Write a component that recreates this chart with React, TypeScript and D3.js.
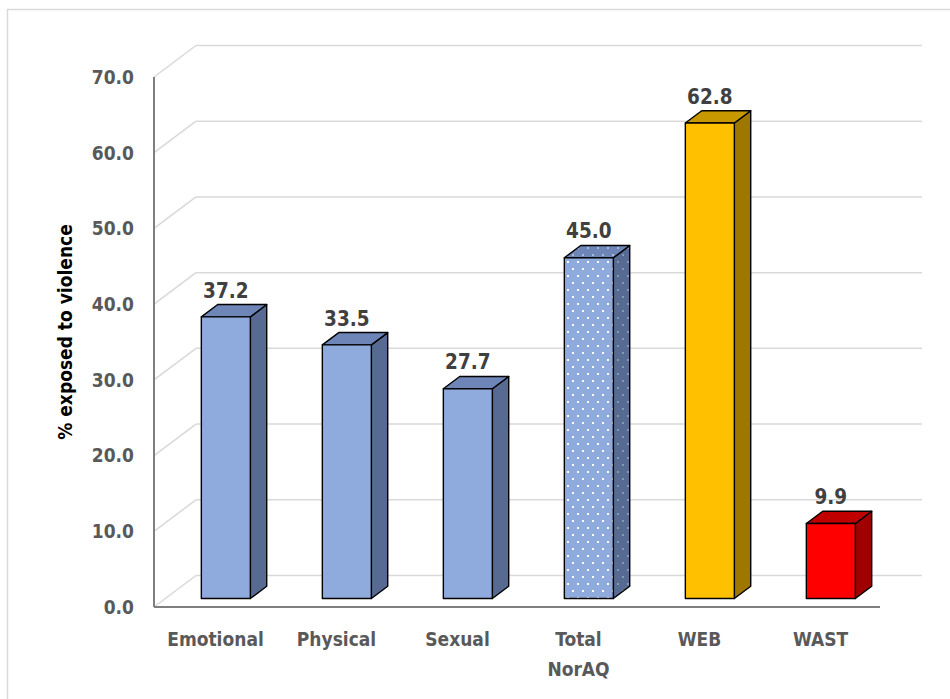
import { useEffect, useRef } from "react";
import * as d3 from "d3";

// chart values
const categories = ["Emotional", "Physical", "Sexual", "Total NorAQ", "WEB", "WAST"];
const values = [37.2, 33.5, 27.7, 45.0, 62.8, 9.9];
const tickValues = [0, 10, 20, 30, 40, 50, 60, 70];
const yTitle = "% exposed to violence";

// colours per bar: front, top, side
const fronts = ["#8faadc", "#8faadc", "#8faadc", "#8faadc", "#ffc000", "#ff0000"];
const tops = ["#6d85b7", "#6d85b7", "#6d85b7", "#6d85b7", "#c79800", "#c00000"];
const sides = ["#576a92", "#576a92", "#576a92", "#576a92", "#9e7700", "#a00000"];

const App = () => {
  const ref = useRef<SVGSVGElement>(null);

  useEffect(() => {
    draw();
  }, []);

  const draw = () => {
    const width = 950;
    const height = 699;
    const font = "'DejaVu Sans Condensed', 'DejaVu Sans', sans-serif";

    const svg = d3.select(ref.current).attr("width", width).attr("height", height);
    svg.selectAll("*").remove();

    // chart border (only top/left fall inside the picture)
    svg
      .append("rect")
      .attr("x", 7.5)
      .attr("y", 9.5)
      .attr("width", 960)
      .attr("height", 710)
      .attr("fill", "none")
      .attr("stroke", "#d9d9d9")
      .attr("stroke-width", 1.5);

    // front plane
    const left = 154;
    const right = 880;
    const depth = { x: 42, y: -31.5 };

    const yScale = d3.scaleLinear().domain([0, 70]).range([607, 77]);
    const xScale = d3
      .scaleBand<string>()
      .domain(categories)
      .range([left, right])
      .paddingInner(0.595)
      .paddingOuter(0.2975);

    // pattern for the dotted bar
    const defs = svg.append("defs");
    const mkPattern = (id: string, bg: string, dot: string) => {
      const p = defs
        .append("pattern")
        .attr("id", id)
        .attr("patternUnits", "userSpaceOnUse")
        .attr("width", 10)
        .attr("height", 14);
      p.append("rect").attr("width", 10).attr("height", 14).attr("fill", bg);
      p.append("rect").attr("x", 2).attr("y", 2).attr("width", 2).attr("height", 2).attr("fill", dot);
      p.append("rect").attr("x", 7).attr("y", 9).attr("width", 2).attr("height", 2).attr("fill", dot);
    };
    mkPattern("dotsFront", "#8faadc", "#ffffff");
    mkPattern("dotsTop", "#6d85b7", "#a9bbdd");
    mkPattern("dotsSide", "#576a92", "#8797b8");

    // back wall gridlines + left wall diagonals
    const grid = svg.append("g").attr("stroke", "#d9d9d9").attr("stroke-width", 1.5).attr("fill", "none");
    tickValues.forEach((v) => {
      const yf = yScale(v);
      grid
        .append("line")
        .attr("x1", left + depth.x)
        .attr("x2", right + depth.x)
        .attr("y1", yf + depth.y)
        .attr("y2", yf + depth.y);
      grid
        .append("line")
        .attr("x1", left)
        .attr("y1", yf)
        .attr("x2", left + depth.x)
        .attr("y2", yf + depth.y);
    });

    // axis lines
    svg
      .append("line")
      .attr("x1", left)
      .attr("x2", left)
      .attr("y1", yScale(70))
      .attr("y2", yScale(0))
      .attr("stroke", "#7f7f7f")
      .attr("stroke-width", 2);
    svg
      .append("line")
      .attr("x1", left)
      .attr("x2", right)
      .attr("y1", yScale(0))
      .attr("y2", yScale(0))
      .attr("stroke", "#7f7f7f")
      .attr("stroke-width", 2);

    // tick labels
    svg
      .append("g")
      .selectAll("text")
      .data(tickValues)
      .join("text")
      .attr("x", 134)
      .attr("y", (d) => yScale(d))
      .attr("dy", "0.36em")
      .attr("text-anchor", "end")
      .attr("font-family", font)
      .attr("font-weight", "bold")
      .attr("font-size", 19)
      .attr("fill", "#595959")
      .text((d) => d.toFixed(1));

    // y title
    svg
      .append("text")
      .attr("transform", `translate(72, 332) rotate(-90)`)
      .attr("text-anchor", "middle")
      .attr("font-family", font)
      .attr("font-weight", "bold")
      .attr("font-size", 19)
      .attr("fill", "#000")
      .text(yTitle);

    // bars
    const d1 = 0.27;
    const d2 = 0.66;
    const bw = xScale.bandwidth();
    const bars = svg.append("g").attr("stroke", "#000").attr("stroke-width", 1.4).attr("stroke-linejoin", "round");
    categories.forEach((c, i) => {
      const v = values[i];
      const x0 = (xScale(c) as number) + depth.x * d1;
      const x1 = x0 + bw;
      const yb = yScale(0) + depth.y * d1;
      const yt = yScale(v) + depth.y * d1;
      const dx = depth.x * (d2 - d1);
      const dy = depth.y * (d2 - d1);
      const dotted = c === "Total NorAQ";
      const side = [
        [x1, yt],
        [x1 + dx, yt + dy],
        [x1 + dx, yb + dy],
        [x1, yb],
      ];
      const top = [
        [x0, yt],
        [x0 + dx, yt + dy],
        [x1 + dx, yt + dy],
        [x1, yt],
      ];
      const line = d3.line();
      bars
        .append("path")
        .attr("d", line(side as [number, number][]) + "Z")
        .attr("fill", dotted ? "url(#dotsSide)" : sides[i]);
      bars
        .append("path")
        .attr("d", line(top as [number, number][]) + "Z")
        .attr("fill", dotted ? "url(#dotsTop)" : tops[i]);
      bars
        .append("rect")
        .attr("x", x0)
        .attr("y", yt)
        .attr("width", bw)
        .attr("height", yb - yt)
        .attr("fill", dotted ? "url(#dotsFront)" : fronts[i]);

      // value label
      svg
        .append("text")
        .attr("x", x0 + bw / 2)
        .attr("y", yt + dy - 7)
        .attr("text-anchor", "middle")
        .attr("font-family", font)
        .attr("font-weight", "bold")
        .attr("font-size", 20.5)
        .attr("fill", "#404040")
        .text(v.toFixed(1));
    });

    // category labels
    const catG = svg.append("g");
    categories.forEach((c) => {
      const cx = (xScale(c) as number) + bw / 2;
      const words = c === "Total NorAQ" ? ["Total", "NorAQ"] : [c];
      words.forEach((w, k) => {
        catG
          .append("text")
          .attr("x", cx + 1)
          .attr("y", 646 + k * 30)
          .attr("text-anchor", "middle")
          .attr("font-family", font)
          .attr("font-weight", "bold")
          .attr("font-size", 19)
          .attr("fill", "#595959")
          .text(w);
      });
    });
  };

  return (
    <div>
      <svg ref={ref} style={{ position: "absolute", left: 0, top: 0 }}></svg>
    </div>
  );
};

export default App;
